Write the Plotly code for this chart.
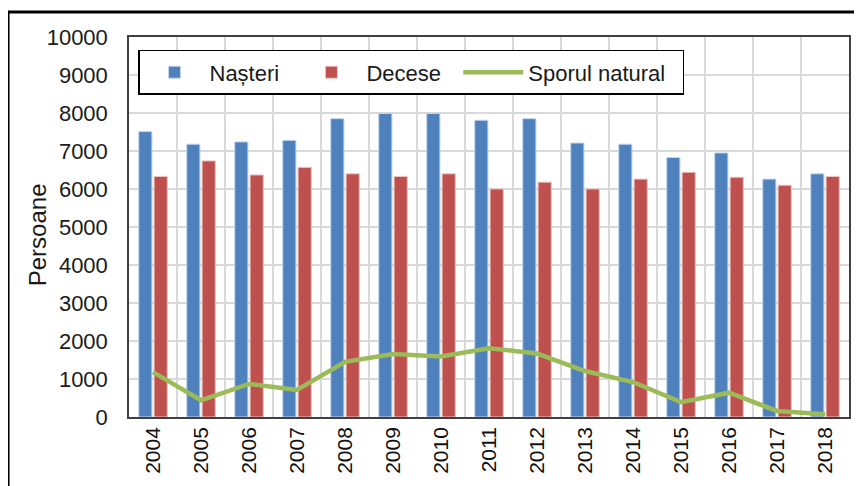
import plotly.graph_objects as go

# data
years = ["2004", "2005", "2006", "2007", "2008", "2009", "2010", "2011",
         "2012", "2013", "2014", "2015", "2016", "2017", "2018"]
nasteri = [7510, 7180, 7240, 7280, 7850, 7990, 7990, 7810,
           7850, 7210, 7180, 6830, 6950, 6260, 6400]
decese = [6330, 6740, 6370, 6570, 6400, 6330, 6400, 6000,
          6180, 6000, 6260, 6440, 6310, 6100, 6330]
sporul = [1180, 440, 870, 710, 1450, 1660, 1590, 1810,
          1670, 1210, 920, 390, 640, 160, 70]

FONT = "Liberation Sans, Arial, sans-serif"
GRID = "#D9D9D9"
PAD = "\u00a0\u00a0"  # keeps the legend entries spread out like the original

fig = go.Figure()

fig.add_trace(go.Bar(
    x=years, y=nasteri, name="Nașteri" + PAD,
    marker=dict(color="#4F81BD", line=dict(color="#C6D6EC", width=1)),
))
fig.add_trace(go.Bar(
    x=years, y=decese, name="Decese" + PAD,
    marker=dict(color="#C0504D", line=dict(color="#EBC4C3", width=1)),
))
fig.add_trace(go.Scatter(
    x=years, y=sporul, name="Sporul natural" + PAD, mode="lines",
    line=dict(color="#9BBB59", width=4.5),
))

# page body adds 8px, margins are set so the plot lands where the original is
fig.update_layout(
    width=862, height=486,
    margin=dict(l=121, r=21, t=29, b=77),
    paper_bgcolor="white", plot_bgcolor="white",
    font=dict(family=FONT, color="#1a1a1a"),
    barmode="group", bargap=0.36, bargroupgap=0.14,
    showlegend=True,
    legend=dict(
        orientation="h", x=0.0125, y=0.966, xanchor="left", yanchor="top",
        bgcolor="white", bordercolor="black", borderwidth=1.5,
        font=dict(family=FONT, size=22, color="#1a1a1a"),
        itemwidth=60, traceorder="normal",
    ),
    xaxis=dict(
        type="category", tickson="boundaries", automargin=False,
        showgrid=True, gridcolor=GRID, gridwidth=1.5,
        showline=True, linecolor="#404040", linewidth=1.5, mirror=True,
        tickangle=-90, ticks="",
        tickfont=dict(family=FONT, size=21, color="#111111"),
    ),
    yaxis=dict(
        range=[0, 10000], dtick=1000, tickformat="d", automargin=False,
        showgrid=True, gridcolor=GRID, gridwidth=1.5,
        showline=True, linecolor="#404040", linewidth=1.5, mirror=True,
        ticks="", zeroline=False, ticklabelstandoff=15,
        tickfont=dict(family=FONT, size=22, color="#1a1a1a"),
    ),
    # axis title as an annotation, it sits closer to the labels than standoff allows
    annotations=[dict(
        text="Persoane", xref="paper", yref="paper", x=-0.126, y=0.479,
        xanchor="center", yanchor="middle", textangle=-90, showarrow=False,
        font=dict(family=FONT, size=24, color="#1a1a1a"),
    )],
    shapes=[dict(
        type="rect", xref="paper", yref="paper",
        x0=-0.168, x1=1.04, y0=-0.25, y1=1.066,
        line=dict(color="black", width=3), fillcolor="rgba(0,0,0,0)",
        layer="above",
    )],
)

fig.write_html("out.html")
